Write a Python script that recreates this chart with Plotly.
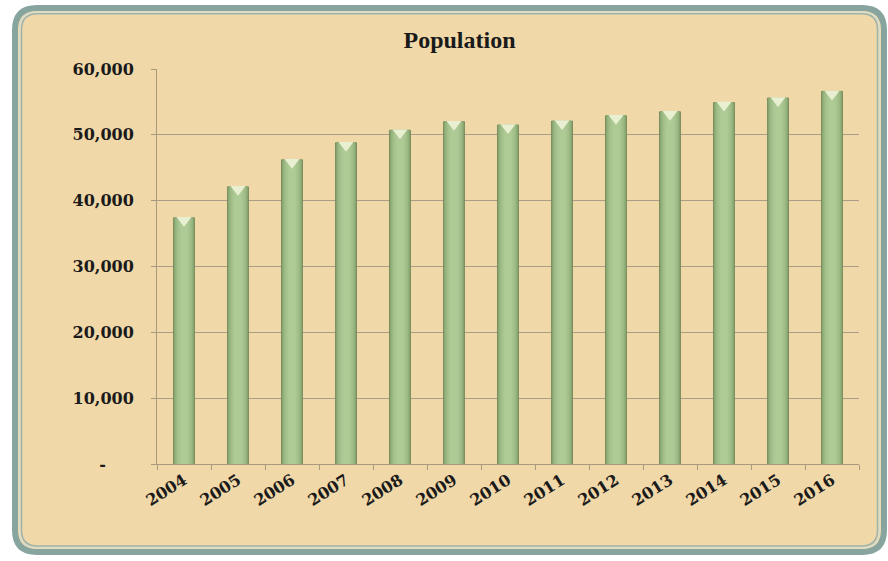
import plotly.graph_objects as go

years = ["2004", "2005", "2006", "2007", "2008", "2009", "2010",
         "2011", "2012", "2013", "2014", "2015", "2016"]
population = [37400, 42100, 46200, 48800, 50700, 52000, 51500,
              52100, 52900, 53500, 54900, 55600, 56600]
y_tickvals = [0, 10000, 20000, 30000, 40000, 50000, 60000]
y_ticktext = ["-\u00a0\u00a0\u00a0\u00a0\u00a0", "10,000", "20,000", "30,000",
              "40,000", "50,000", "60,000"]

W, H = 888, 561
L, R, T, B = 157, 29, 69, 97
pw, ph = W - L - R, H - T - B

def fx(px):
    return (px - L) / pw

def fy(py):
    return (H - B - py) / ph

def rrect(x0, y0, x1, y1, r):
    return (f"M {fx(x0 + r)},{fy(y0)} L {fx(x1 - r)},{fy(y0)} "
            f"Q {fx(x1)},{fy(y0)} {fx(x1)},{fy(y0 + r)} "
            f"L {fx(x1)},{fy(y1 - r)} Q {fx(x1)},{fy(y1)} {fx(x1 - r)},{fy(y1)} "
            f"L {fx(x0 + r)},{fy(y1)} Q {fx(x0)},{fy(y1)} {fx(x0)},{fy(y1 - r)} "
            f"L {fx(x0)},{fy(y0 + r)} Q {fx(x0)},{fy(y0)} {fx(x0 + r)},{fy(y0)} Z")

fig = go.Figure()

layers = [
    (0.39, "#7F9A67", "#6E8858", 0.8),
    (0.355, "#8EAB75"),
    (0.32, "#99B680"),
    (0.27, "#A1BE88"),
    (0.21, "#A8C58F"),
    (0.14, "#AECA95"),
]
for lay in layers:
    w, col = lay[0], lay[1]
    lc = lay[2] if len(lay) > 2 else col
    lw = lay[3] if len(lay) > 3 else 0
    fig.add_trace(go.Bar(
        x=years, y=population, width=w,
        marker=dict(color=col, line=dict(color=lc, width=lw)),
        hoverinfo="skip", showlegend=False,
    ))

cap_y = [v - 380 for v in population]
fig.add_trace(go.Scatter(
    x=years, y=cap_y, mode="markers",
    marker=dict(symbol="triangle-down", size=13, color="#E9F0D2",
                line=dict(width=0)),
    hoverinfo="skip", showlegend=False,
))

shapes = [
    dict(type="path", xref="paper", yref="paper", layer="below",
         path=rrect(15, 8, 884, 552, 22),
         fillcolor="#F1D8A8", line=dict(color="#87A49F", width=6)),
    dict(type="path", xref="paper", yref="paper", layer="below",
         path=rrect(19.5, 12, 879.5, 548, 18),
         fillcolor="rgba(0,0,0,0)", line=dict(color="#D8DDCB", width=1.5)),
    dict(type="path", xref="paper", yref="paper", layer="below",
         path=rrect(21.5, 13.8, 877.5, 546, 16),
         fillcolor="rgba(0,0,0,0)", line=dict(color="#9DB3AD", width=1.5)),
]

fig.update_layout(
    width=W, height=H,
    margin=dict(l=L, r=R, t=T, b=B),
    paper_bgcolor="white",
    plot_bgcolor="rgba(0,0,0,0)",
    barmode="overlay",
    shapes=shapes,
    title=dict(text="<b>Population</b>", x=459.5 / W, xref="container",
               xanchor="center", y=1 - 40 / H, yanchor="middle",
               font=dict(family="Liberation Serif", size=24, color="#1A1A1A")),
    font=dict(family="DejaVu Serif", color="#1A1A1A"),
)

fig.update_xaxes(
    type="category", tickangle=-32,
    tickfont=dict(family="DejaVu Serif", size=16, color="#1A1A1A", weight="bold"),
    showline=True, linecolor="#A8987E", linewidth=1,
    ticks="outside", tickson="boundaries", ticklen=5, tickcolor="#A8987E",
    showgrid=False, range=[-0.5, 12.5],
)
fig.update_yaxes(
    range=[0, 60000], tickvals=y_tickvals, ticktext=y_ticktext,
    tickfont=dict(family="DejaVu Serif", size=16, color="#1A1A1A", weight="bold"),
    showline=True, linecolor="#A8987E", linewidth=1,
    ticks="outside", ticklen=5, tickcolor="#A8987E",
    showgrid=True, gridcolor="#AC9E86", gridwidth=1,
    zeroline=False, ticklabelstandoff=14,
)

fig.write_html("out.html")
